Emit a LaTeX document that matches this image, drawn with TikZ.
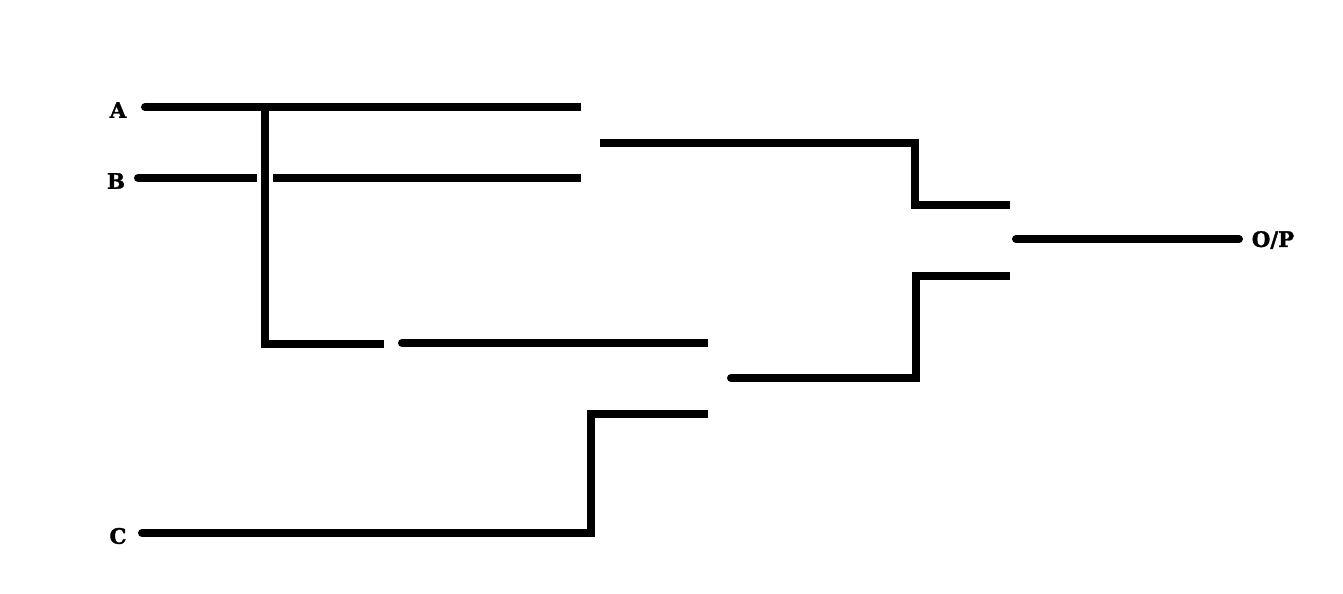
\documentclass[tikz,border=0pt]{standalone}
\usepackage{fontspec}
\usetikzlibrary{calc}
\newfontfamily\labfont[BoldFeatures={FakeBold=1.5}]{DejaVu Serif}
\begin{document}
\begin{tikzpicture}[x=0.75pt,y=-0.75pt,
  wire/.style={line width=6pt,line join=miter,line cap=butt},
  rwire/.style={wire,line cap=round},
  lab/.style={font=\labfont\bfseries\fontsize{16}{18}\selectfont,inner sep=0pt}]
\useasboundingbox (0,0) rectangle (1343,593);
% labels
\node[lab] (A) at (118,110) {A};
\node[lab] (B) at (116,181) {B};
\node[lab] (C) at (118,536) {C};
\node[lab] (OP) at (1273,240) {O/P};
% wire end points
\coordinate (a0) at (145,107); \coordinate (a1) at (581,107);
\coordinate (b0) at (138,178); \coordinate (b1) at (257,178);
\coordinate (b2) at (273,178); \coordinate (b3) at (581,178);
\coordinate (v0) at (265,103); \coordinate (v1) at (265,344); \coordinate (v2) at (384,344);
\coordinate (d0) at (402,343); \coordinate (d1) at (708,343);
\coordinate (c0) at (142,533); \coordinate (c1) at (591,533);
\coordinate (c2) at (591,414); \coordinate (c3) at (708,414);
\coordinate (g0) at (600,143); \coordinate (g1) at (915,143);
\coordinate (g2) at (915,205); \coordinate (g3) at (1010,205);
\coordinate (h0) at (731,378); \coordinate (h1) at (916,378);
\coordinate (h2) at (916,276); \coordinate (h3) at (1010,276);
\coordinate (o0) at (1016,239); \coordinate (o1) at (1239,239);
% wires
\draw[wire] (a0) -- (a1);
\draw[rwire] (a0) -- ($(a0)+(20,0)$);
\draw[rwire] (b0) -- ($(b0)+(20,0)$); \draw[wire] ($(b0)+(10,0)$) -- (b1);
\draw[wire] (b2) -- (b3);
\draw[wire] (v0) -- (v1) -- (v2);
\draw[rwire] (d0) -- ($(d0)+(20,0)$); \draw[wire] ($(d0)+(10,0)$) -- (d1);
\draw[rwire] (c0) -- ($(c0)+(20,0)$); \draw[wire] ($(c0)+(10,0)$) -- (c1) -- (c2) -- (c3);
\draw[wire] (g0) -- (g1) -- (g2) -- (g3);
\draw[rwire] (h0) -- ($(h0)+(20,0)$); \draw[wire] ($(h0)+(10,0)$) -- (h1) -- (h2) -- (h3);
\draw[rwire] (o0) -- (o1);
\end{tikzpicture}
\end{document}
